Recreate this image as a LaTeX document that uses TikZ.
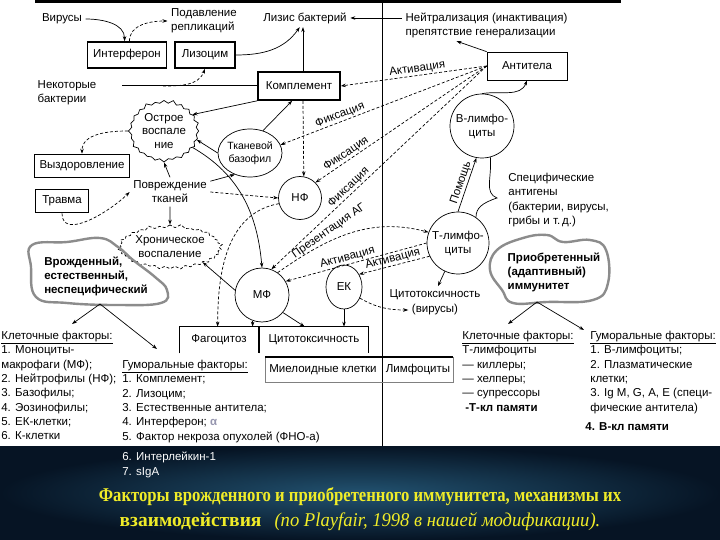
\documentclass[tikz,border=0pt]{standalone}
\usepackage{fontspec}
\setmainfont{Liberation Sans}
\newfontfamily\titlefont{Liberation Serif}
\usetikzlibrary{arrows.meta,shapes.geometric,shapes.symbols}
\definecolor{blobgray}{RGB}{140,140,140}
\definecolor{bgtop}{RGB}{34,82,112}
\definecolor{bgdark}{RGB}{6,20,36}
\definecolor{titleyel}{RGB}{240,236,40}
\definecolor{alphagray}{RGB}{150,150,175}
\newcommand\basefont{\fontsize{11.5}{14}\selectfont}
\newcommand\listfont{\fontsize{11.5}{14.3}\selectfont}
\tikzset{
  thickbox/.style={draw, line width=1.6pt, inner sep=2pt},
  thinbox/.style={draw, inner sep=2pt},
  cell/.style={draw, ellipse, inner sep=-4pt, align=center},
  burst/.style={starburst, starburst points=24, starburst point height=3.5pt, draw, align=center, inner sep=0pt},
  blob/.style={draw=blobgray, line width=2.4pt},
  dsh/.style={dash pattern=on 3pt off 2pt},
  lst/.style={anchor=north west, inner sep=0pt, align=left, font=\listfont},
  lab/.style={inner sep=1pt},
  >={Stealth[length=5pt,width=3.5pt]}
}

\begin{document}
\begin{tikzpicture}[x=1pt, y=1pt, font=\basefont, line width=0.7pt]
    \useasboundingbox (0,0) rectangle (720,-540);
    \fill[white] (0,0) rectangle (720,-446);
    \shade[inner color=bgtop, outer color=bgdark] (0,-446) rectangle (720,-540);

    % rules
    \draw[line width=3pt] (35,-1.5) -- (621,-1.5);
    \draw (382,-3) -- (382,-446);

    % top row
    \node (virus) at (62,-19) {Вирусы};
    \node[align=left] (podav) at (204,-21) {Подавление\\репликаций};
    \node[thickbox, minimum width=79pt, minimum height=26pt] (interf) at (127,-55) {Интерферон};
    \node[thickbox, minimum width=60pt, minimum height=26pt] (lizoc) at (205,-55) {Лизоцим};
    \node (lizis) at (305,-18) {Лизис бактерий};
    \node[align=left, anchor=west] (neutr) at (402,-25) {Нейтрализация (инактивация)\\препятствие генерализации};
    \node[thinbox, minimum width=80pt, minimum height=28pt] (antit) at (527,-66) {Антитела};
    \node[thickbox, minimum width=82pt, minimum height=28pt] (compl) at (299,-86) {Комплемент};
    \node[align=left] (bact) at (67,-93) {Некоторые\\бактерии};
    \coordinate (bline) at (122,-86);
    \coordinate (bmid) at (163,-86);

    % inflammation
    \node[burst, minimum width=72pt, minimum height=63pt, inner sep=-3pt, font=\fontsize{11.5}{13.5}\selectfont] (ostr) at (164,-131) {Острое\\воспале\\ние};
    \node[cell, minimum width=64pt, minimum height=48pt, font=\fontsize{10.5}{13}\selectfont] (baso) at (250,-153) {Тканевой\\базофил};
    \node[thickbox, minimum width=95pt, minimum height=23pt] (vyzd) at (82,-166) {Выздоровление};
    \node[thickbox, minimum width=53pt, minimum height=23pt] (travma) at (62,-201) {Травма};
    \node[align=center] (povr) at (170,-192) {Повреждение\\тканей};
    \node[burst, dsh, starburst points=30, minimum width=96pt, minimum height=46pt] (hron) at (170,-247) {Хроническое\\воспаление};

    % cells
    \node[cell, minimum size=43pt] (nf) at (300,-198) {НФ};
    \node[cell, minimum size=54pt] (mf) at (262,-295) {МФ};
    \node[cell, minimum width=36pt, minimum height=44pt] (ek) at (344,-287) {ЕК};
    \node[cell, minimum size=64pt] (blim) at (482,-126) {В-лимфо-\\циты};
    \node[cell, minimum size=62pt] (tlim) at (458,-243) {Т-лимфо-\\циты};
    \node (cyto) at (435,-295) {Цитотоксичность};
    \node (vir) at (435,-310) {(вирусы)};
    \node[lst] (spec) at (508,-173) {Специфические\\антигены\\(бактерии, вирусы,\\грибы и т.\,д.)};

    % blobs
    \node[align=left, font=\basefont\bfseries] (innate) at (96,-276) {Врожденный,\\естественный,\\неспецифический};
    \draw[blob] plot[smooth cycle, tension=0.7] coordinates {(32,-245) (67,-242) (100,-238) (118,-247) (133,-260) (155,-277) (167,-290) (161,-303) (117,-305) (67,-303) (36,-297) (31,-267)};
    \node[align=left, font=\basefont\bfseries] (adapt) at (554,-272) {Приобретенный\\(адаптивный)\\иммунитет};
    \draw[blob] plot[smooth cycle, tension=0.7] coordinates {(497,-250) (523,-238) (547,-235) (563,-242) (590,-240) (606,-250) (608,-283) (593,-300) (547,-302) (513,-303) (502,-290) (490,-270)};
    \coordinate (innb) at (100,-304);
    \coordinate (adab) at (537,-302);

    % effector boxes
    \node[minimum width=78pt, minimum height=26pt] (fag) at (219,-340) {Фагоцитоз};
    \draw (fag.south west) |- (fag.north east) -- (fag.south east);
    \node[minimum width=108pt, minimum height=26pt] (cytox) at (314,-340) {Цитотоксичность};
    \draw (cytox.south west) |- (cytox.north east) -- (cytox.south east);
    \node (myel) at (323,-370) {Миелоидные клетки};
    \node (lymph) at (418,-370) {Лимфоциты};
    \draw[gray] (265,-357) rectangle (453,-382);
    \draw[line width=1.8pt] (265,-357) -- (453,-357);

    % lists
    \node[lst] (cellL) at (1,-331) {\underline{Клеточные факторы:}\\1. Моноциты-\\макрофаги (МФ);\\2. Нейтрофилы (НФ);\\3. Базофилы;\\4. Эозинофилы;\\5. ЕК-клетки;\\6. К-клетки};
    \node[lst] (humL) at (122,-360) {\underline{Гуморальные факторы:}\\1. Комплемент;\\2. Лизоцим;\\3. Естественные антитела;\\4. Интерферон; \textcolor{alphagray}{\bfseries α}\\5. Фактор некроза опухолей (ФНО-а)};
    \node[lst, text=white] (humL2) at (122,-452) {6. Интерлейкин-1\\7. sIgA};
    \node[lst] (cellR) at (462,-331) {\underline{Клеточные факторы:}\\Т-лимфоциты\\— киллеры;\\— хелперы;\\— супрессоры\\\hspace*{3pt}\textbf{-Т-кл памяти}};
    \node[lst] (humR) at (590,-331) {\underline{Гуморальные факторы:}\\1. В-лимфоциты;\\2. Плазматические\\клетки;\\3. Ig M, G, A, E (специ-\\фические антитела)};
    \node[lst, font=\listfont\bfseries] (bmem) at (585,-422) {4. В-кл памяти};

    % title
    \node[font=\titlefont\bfseries\fontsize{19.5}{25}\selectfont, text=titleyel, align=center] (title) at (360,-509) {\scalebox{0.855}[1]{Факторы врожденного и приобретенного иммунитета, механизмы их}\\взаимодействия\hspace{13pt}{\mdseries\itshape\scalebox{0.955}[1]{(по Playfair, 1998 в нашей модификации).}}};

    % connectors, top
    \draw[->] (virus.east) to[out=0, in=90] (interf.100);
    \draw[->, dsh] (interf.80) to[out=90, in=180] (podav.west);
    \draw[->] (lizoc.east) to[out=0, in=235] (lizis.240);
    \draw[->] (compl.75) -- (compl.75 |- lizis.south);
    \draw[->] (neutr.west |- lizis) -- (lizis.east);
    \draw[->] (antit.north west) -- ([xshift=-30pt]neutr.south);
    \draw[->] (blim.north) to[out=10, in=-110] (antit.south);
    \draw[line width=1pt] (bline) -- (compl.west);
    \draw[->, dsh] (bmid) to[out=0, in=250] (lizoc.south);

    % connectors, inflammation
    \draw[->] (compl.south west) -- (ostr.30);
    \draw[->, dsh] (compl.-75) -- (nf.80);
    \draw[->] (baso.60) -- (compl.-115);
    \draw[->] (baso.west) -- (ostr.-15);
    \draw[->, dsh] (ostr.west) to[out=180, in=90] (vyzd.north);
    \draw[->] (ostr.-30) to[out=-30, in=95] (mf.north);
    \draw[->] (povr.north) -- (ostr.south);
    \draw[->] (povr.south) -- (hron.north);
    \draw[->] (povr.15) -- (baso.-125);
    \draw[->, dsh] (povr.east) -- (nf.west);
    \draw[->, dsh] (travma.south) to[out=-90, in=225] (povr.west);
    \draw[->] (mf.170) -- (hron.-25);

    % connectors, effectors
    \draw[->, dsh] (nf.195) to[out=190, in=90] ([xshift=38pt]fag.north west);
    \draw[->, dsh] (mf.-110) -- (mf.-110 |- fag.north);
    \draw[->] (mf.-40) -- ([xshift=45pt]cytox.north west);
    \draw[->] (ek.south) -- (ek.south |- cytox.north);
    \draw[->, dsh] (ek.-35) to[out=-30, in=180] (vir.west);
    \draw[->] (tlim.-115) -- ([xshift=3pt]cyto.north);

    % antibodies and lymphocytes
    \draw[->, dsh] (antit.west) -- node[lab, sloped, above, pos=0.47] (lbakt) {Активация} (compl.east);
    \draw[->, dsh] (antit.west) -- node[lab, sloped, above, pos=0.7] (lbfix1) {Фиксация} (baso.15);
    \draw[->, dsh] (antit.west) -- node[lab, sloped, above, pos=0.8] (lbfix2) {Фиксация} (nf.45);
    \draw[->, dsh] (antit.west) -- node[lab, sloped, above, pos=0.62] (lbfix3) {Фиксация} (mf.70);
    \draw[->, dsh] (mf.55) to[out=35, in=165] (tlim.160);
    \node[lab, rotate=35] (lbprez) at (329,-231) {Презентация АГ};
    \draw[->, dsh] (tlim.west) -- node[lab, sloped, above, pos=0.55] (lbakt2) {Активация} (mf.30);
    \draw[->, dsh] (tlim.205) -- node[lab, sloped, above, pos=0.5] (lbakt3) {Активация} (ek.40);
    \draw[->] (tlim.north) -- node[lab, sloped, above] (lbhelp) {Помощь} (blim.-100);
    \draw (blim.-75) .. controls (492,-178) and (484,-193) .. (497,-198) .. controls (482,-203) and (476,-208) .. (tlim.55);

    % to factor lists
    \draw[->] (innb) -- ([shift={(71pt,7pt)}]cellL.north west);
    \draw[->] (innb) -- ([shift={(35pt,11pt)}]humL.north west);
    \draw[->] (adab) -- ([shift={(46pt,7pt)}]cellR.north west);
    \draw[->] (adab) -- ([shift={(-6pt,1pt)}]humR.north west);
\end{tikzpicture}
\end{document}
